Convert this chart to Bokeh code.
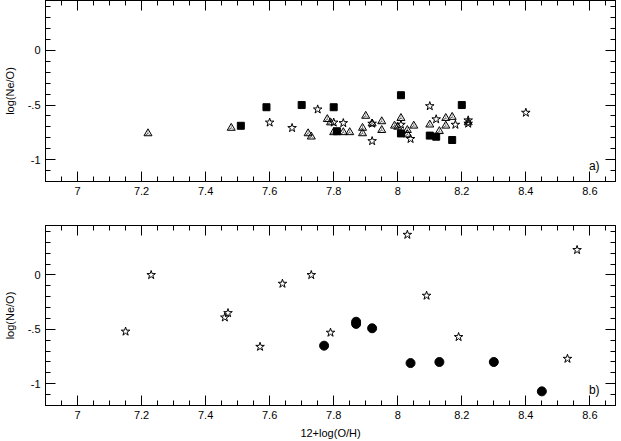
import math
from bokeh.plotting import figure
from bokeh.layouts import column
from bokeh.models import LinearAxis, SingleIntervalTicker, Range1d, Label, CustomLabelingPolicy
from bokeh.embed import file_html
from bokeh.resources import INLINE

# ---- data (panel a) ----
top_tri_x = [7.22, 7.48, 7.72, 7.73, 7.78, 7.79, 7.80, 7.83, 7.85, 7.89, 7.89, 7.90, 7.92, 7.95,
             7.95, 7.99, 8.00, 8.01, 8.03, 8.03, 8.05, 8.10, 8.13, 8.15, 8.15, 8.17, 8.22]
top_tri_y = [-0.76, -0.71, -0.76, -0.79, -0.63, -0.66, -0.75, -0.75, -0.75, -0.71, -0.76, -0.60, -0.67, -0.65,
             -0.73, -0.69, -0.70, -0.62, -0.73, -0.77, -0.69, -0.68, -0.74, -0.62, -0.69, -0.61, -0.66]
top_star_x = [7.60, 7.67, 7.75, 7.80, 7.83, 7.92, 7.92, 8.01, 8.04, 8.10, 8.12, 8.18, 8.22, 8.22, 8.40]
top_star_y = [-0.66, -0.71, -0.54, -0.66, -0.665, -0.67, -0.83, -0.68, -0.81, -0.51, -0.63, -0.68, -0.64, -0.67, -0.57]
top_sq_x = [7.51, 7.59, 7.70, 7.80, 7.81, 8.01, 8.01, 8.10, 8.12, 8.17, 8.20]
top_sq_y = [-0.69, -0.52, -0.50, -0.52, -0.74, -0.41, -0.76, -0.78, -0.79, -0.82, -0.50]

# ---- data (panel b) ----
bot_star_x = [7.15, 7.23, 7.46, 7.47, 7.57, 7.64, 7.73, 7.79, 8.03, 8.09, 8.19, 8.53, 8.56]
bot_star_y = [-0.52, 0.00, -0.39, -0.35, -0.66, -0.08, 0.00, -0.53, 0.37, -0.19, -0.57, -0.77, 0.23]
bot_circ_x = [7.77, 7.87, 7.87, 7.92, 8.04, 8.13, 8.30, 8.45]
bot_circ_y = [-0.65, -0.43, -0.45, -0.49, -0.81, -0.80, -0.80, -1.07]

x_label = "12+log(O/H)"
y_label = "log(Ne/O)"
y_tick_labels = {0: "0", -0.5: "-.5", -1: "-1"}

FONT = "Liberation Sans"

NO_LABELS = """
for (const i of Array.from(indices)) indices.unset(i)
return indices
"""


def style_axis(ax, labels=True, xaxis=True):
    ax.ticker = SingleIntervalTicker(interval=0.2, num_minor_ticks=4) if xaxis else \
        SingleIntervalTicker(interval=0.5, num_minor_ticks=5)
    ax.major_tick_in = 10
    ax.major_tick_out = 0
    ax.minor_tick_in = 5
    ax.minor_tick_out = 0
    ax.axis_line_color = "black"
    ax.major_tick_line_color = "black"
    ax.minor_tick_line_color = "black"
    ax.major_label_text_font = FONT
    ax.major_label_text_font_size = "11px"
    ax.major_label_text_color = "black"
    ax.axis_label_text_font = FONT
    ax.axis_label_text_font_size = "11px"
    ax.axis_label_text_font_style = "normal"
    ax.axis_label_text_color = "black"
    if not xaxis:
        ax.major_label_overrides = y_tick_labels
    if not labels:
        ax.major_label_text_font_size = "0px"
        ax.major_label_standoff = 0
        ax.major_label_policy = CustomLabelingPolicy(code=NO_LABELS)


def make_fig(height, top, bottom, y_top, show_xlabel):
    p = figure(width=621, height=height, output_backend="svg", toolbar_location=None,
               x_range=Range1d(6.9, 8.68), y_range=Range1d(-1.2, y_top),
               min_border_left=45, min_border_right=6, min_border_top=top, min_border_bottom=bottom)
    p.grid.visible = False
    p.outline_line_color = "black"
    p.background_fill_color = "white"
    p.border_fill_color = "white"
    style_axis(p.xaxis[0], True, True)
    p.xaxis[0].major_label_standoff = 5
    style_axis(p.yaxis[0], True, False)
    p.yaxis[0].major_label_standoff = 5
    p.yaxis[0].axis_label = y_label
    p.yaxis[0].axis_label_standoff = 9
    if show_xlabel:
        p.xaxis[0].axis_label = x_label
        p.xaxis[0].axis_label_standoff = 5
    ax_top = LinearAxis()
    style_axis(ax_top, False, True)
    p.add_layout(ax_top, "above")
    ax_right = LinearAxis()
    style_axis(ax_right, False, False)
    p.add_layout(ax_right, "right")
    return p


p1 = make_fig(200, 0, 19, 0.457, False)
p1.scatter(top_tri_x, top_tri_y, marker="triangle", size=8, fill_color=None, line_color="black", line_width=1)
p1.scatter(top_tri_x, top_tri_y, marker="y", angle=math.pi, size=6, line_color="black", line_width=0.5,
           line_alpha=0.8)
p1.scatter(top_star_x, top_star_y, marker="star", size=9, fill_color=None, line_color="black", line_width=1)
p1.scatter(top_sq_x, top_sq_y, marker="square", size=7, fill_color="black", line_color="black")
p1.add_layout(Label(x=8.597, y=-1.06, text="a)", text_baseline="middle", text_font=FONT,
                    text_font_size="12px", text_color="black"))

p2 = make_fig(241, 25, 35, 0.455, True)
p2.scatter(bot_star_x, bot_star_y, marker="star", size=9, fill_color=None, line_color="black", line_width=1)
p2.scatter(bot_circ_x, bot_circ_y, marker="circle", size=9, fill_color="black", line_color="black")
p2.add_layout(Label(x=8.597, y=-1.06, text="b)", text_baseline="middle", text_font=FONT,
                    text_font_size="12px", text_color="black"))

layout = column(p1, p2, spacing=0)

open("out.html", "w").write(file_html(layout, INLINE))
